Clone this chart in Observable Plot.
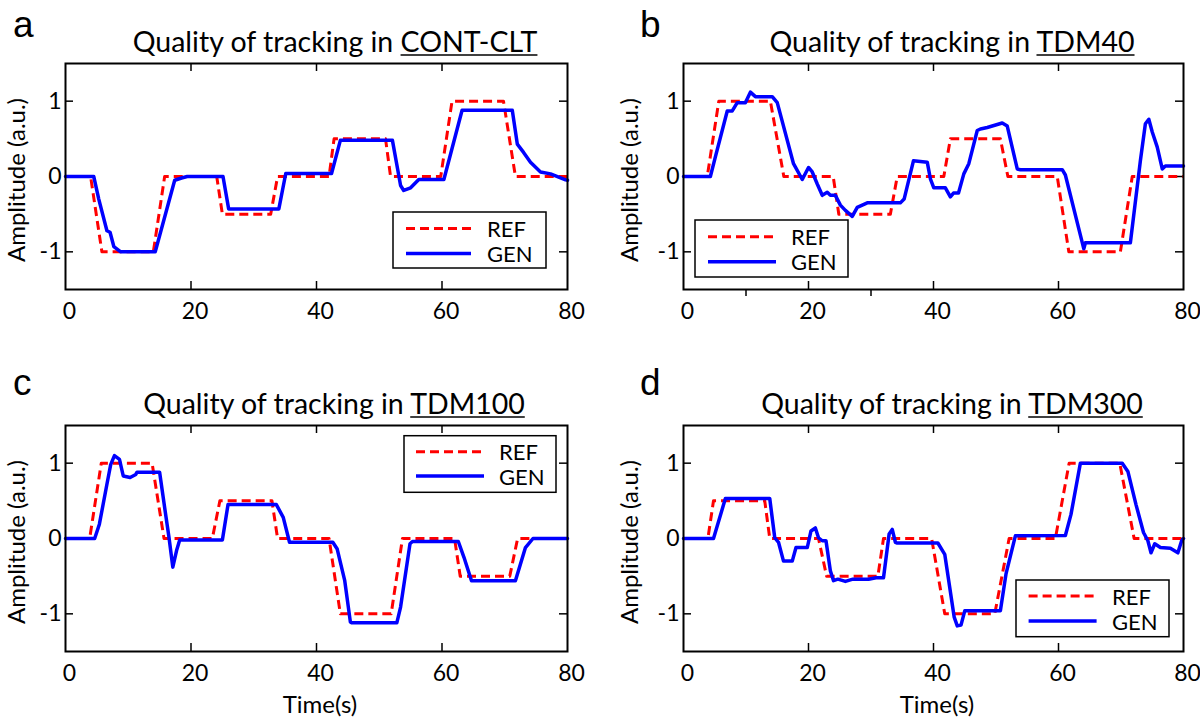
<!DOCTYPE html>
<html><head><meta charset="utf-8">
<script src="https://cdn.jsdelivr.net/npm/d3@7"></script>
<script src="https://cdn.jsdelivr.net/npm/@observablehq/plot@0.6"></script>
<style>
body{margin:0;background:#fff;}
#wrap{position:relative;width:1200px;height:719px;overflow:hidden;background:#fff;}
.panel{position:absolute;}
</style></head><body><div id="wrap"></div>
<script>
// ---- data: [time (s), amplitude (a.u.)] ----
const refA = [[0,0],[4,0],[5.8,-1],[14,-1],[15.8,0],[24.1,0],[25,-0.5],[32.7,-0.5],[33.8,0],[42,0],[42.8,0.5],[51,0.5],[51.8,0],[59.8,0],[61.6,1],[69.8,1],[71.7,0],[80,0]];
const genA = [[0,0],[4.5,0],[5.3,-0.3],[6.6,-0.72],[7.1,-0.74],[7.7,-0.93],[8.8,-1],[14.3,-1],[17.4,-0.05],[18.5,-0.02],[19.4,0],[25.1,0],[26,-0.43],[34,-0.43],[35.1,0.04],[42.4,0.04],[43.8,0.48],[52.1,0.48],[53.4,-0.12],[53.9,-0.185],[55,-0.15],[56.3,-0.04],[60.3,-0.04],[63.2,0.88],[71.2,0.88],[72,0.43],[73,0.32],[74.1,0.19],[75.7,0.06],[77.3,0.035],[79.7,-0.044],[80,-0.05]];
const refB = [[0,0],[3.8,0],[5.65,1],[13.9,1],[16.05,0],[23.95,0],[24.85,-0.5],[33.1,-0.5],[34.2,0],[41.65,0],[42.7,0.5],[50.7,0.5],[51.9,0],[59.8,0],[61.65,-1],[69.9,-1],[71.8,0],[80,0]];
const genB = [[0,0],[4.3,0],[5.1,0.26],[7.0,0.87],[7.8,0.87],[8.6,0.98],[9.9,0.98],[10.7,1.12],[11.5,1.06],[14.2,1.06],[15.0,0.98],[17.6,0.17],[19.0,-0.04],[20.0,0.12],[20.6,0.06],[21.4,-0.1],[22.2,-0.25],[23.0,-0.21],[23.5,-0.25],[24.3,-0.25],[25.1,-0.38],[25.9,-0.45],[27.0,-0.53],[27.8,-0.41],[29.4,-0.35],[34.7,-0.35],[35.3,-0.3],[36.8,0.21],[39.0,0.19],[39.5,-0.03],[40.05,-0.15],[41.9,-0.15],[42.7,-0.27],[43.2,-0.22],[44.0,-0.22],[44.85,0.035],[45.65,0.17],[47,0.61],[47.5,0.63],[48.6,0.65],[49.4,0.67],[51.0,0.71],[51.8,0.67],[53.4,0.1],[53.9,0.09],[60.6,0.09],[61.1,0.02],[64.05,-0.96],[64.3,-0.88],[71.5,-0.88],[73.1,0.21],[73.9,0.70],[74.45,0.76],[75.0,0.59],[75.8,0.39],[76.6,0.10],[77.1,0.14],[80,0.14]];
const refC = [[0,0],[3.85,0],[5.7,1],[13.8,1],[15.7,0],[23.4,0],[24.6,0.5],[32.9,0.5],[33.8,0],[42,0],[43.8,-1],[51.9,-1],[53.7,0],[62,0],[62.9,-0.5],[70.8,-0.5],[72.05,0],[80,0]];
const genC = [[0,0],[4.65,0],[5.4,0.19],[6.6,0.72],[7.2,0.98],[7.8,1.1],[8.6,1.05],[9.2,0.83],[10.3,0.81],[11.2,0.85],[11.4,0.88],[15.0,0.88],[15.8,0.41],[16.5,0.01],[17.1,-0.38],[17.7,-0.16],[18.2,-0.02],[25.0,-0.02],[25.9,0.45],[33.6,0.45],[34.7,0.28],[35.7,-0.05],[42.6,-0.05],[43.3,-0.14],[44.5,-0.56],[45.4,-1.11],[45.6,-1.12],[52.8,-1.12],[53.4,-0.91],[54.9,-0.07],[55.3,-0.04],[62.6,-0.04],[63.5,-0.25],[64.7,-0.56],[71.7,-0.56],[73.3,-0.12],[74.5,0],[80,0]];
const refD = [[0,0],[3.9,0],[4.8,0.5],[13.0,0.5],[13.8,0],[21.6,0],[22.9,-0.5],[31.1,-0.5],[32.0,0],[39.7,0],[41.8,-1],[49.8,-1],[52.1,0],[59.5,0],[61.7,1],[69.8,1],[72.1,0],[80,0]];
const genD = [[0,0],[4.8,0],[6.7,0.53],[13.8,0.53],[14.6,0.01],[15.2,-0.05],[16.0,-0.3],[17.4,-0.3],[18.0,-0.12],[19.8,-0.12],[20.4,0.1],[21.1,0.14],[21.6,0.01],[22.2,-0.03],[22.8,-0.03],[23.5,-0.43],[24.0,-0.56],[24.7,-0.54],[25.9,-0.57],[27.1,-0.54],[29.6,-0.54],[30.8,-0.52],[32.0,-0.52],[32.9,0.06],[33.4,0.12],[33.9,-0.05],[34.2,-0.06],[40.7,-0.06],[41.8,-0.21],[43.3,-1.04],[43.8,-1.16],[44.4,-1.15],[45.0,-0.96],[50.7,-0.96],[51.6,-0.47],[53.1,0.035],[61.1,0.04],[62.0,0.32],[63.5,1.0],[70.2,1.0],[71.1,0.89],[72.4,0.45],[73.6,0.08],[74.3,-0.03],[74.8,-0.19],[75.4,-0.07],[76.3,-0.12],[77.9,-0.13],[79.1,-0.19],[79.7,-0.03],[80,0]];

const xTickValues = [0, 20, 40, 60, 80];
const xInnerTicks = [20, 40, 60];
const yTickValues = [-1, 0, 1];
const strayTicksB = [10, 30];
const panelLetters = ["a", "b", "c", "d"];
const conditions = ["CONT-CLT", "TDM40", "TDM100", "TDM300"];
const titlePrefix = "Quality of tracking in ";
const seriesNames = ["REF", "GEN"];
const yLabel = "Amplitude (a.u.)";
const xLabel = "Time(s)";

// ---- layout ----
const W = 600, H = 360, MT = 63, MB = 71;
const panels = [
  {ref: refA, gen: genA, left: 0,   top: 0,   ml: 65, mr: 33, titleX: 335, ylabX: 24.5,
   leg: {x: 393, y: 212, w: 153, h: 56, lx1: 406, lx2: 471, ly1: 228.5, ly2: 253.5, tx: 487, ty1: 237, ty2: 262}, xlab: false, stray: false},
  {ref: refB, gen: genB, left: 600, top: 0,   ml: 83, mr: 17, titleX: 352, ylabX: 37.5,
   leg: {x: 95, y: 220, w: 153, h: 57, lx1: 108, lx2: 176, ly1: 236.7, ly2: 261.7, tx: 191, ty1: 245, ty2: 270}, xlab: false, stray: true},
  {ref: refC, gen: genC, left: 0,   top: 362, ml: 65, mr: 33, titleX: 334, ylabX: 24.5,
   leg: {x: 404, y: 73.7, w: 152, h: 56.6, lx1: 416, lx2: 484, ly1: 89.7, ly2: 114, tx: 499, ty1: 98, ty2: 123}, xlab: true, xlabX: 320, stray: false},
  {ref: refD, gen: genD, left: 600, top: 362, ml: 83, mr: 17, titleX: 352, ylabX: 37.5,
   leg: {x: 416, y: 218, w: 153, h: 56.7, lx1: 428.6, lx2: 496.6, ly1: 234, ly2: 259, tx: 512, ty1: 243, ty2: 268}, xlab: true, xlabX: 337, stray: false}
];

const RED = "#ff0000", BLUE = "#0000ff";
const FONT = "Lato, 'Open Sans', sans-serif";
const wrap = document.getElementById("wrap");

panels.forEach((p, i) => {
  const plotW = W - p.ml - p.mr, plotH = H - MT - MB;
  const marks = [
    Plot.ruleX(xInnerTicks, {x: d => d, insetTop: plotH - 8, stroke: "#000", strokeWidth: 1.5}),
    Plot.ruleX(xInnerTicks, {x: d => d, insetBottom: plotH - 8, stroke: "#000", strokeWidth: 1.5}),
    Plot.ruleY(yTickValues, {y: d => d, insetRight: plotW - 8, stroke: "#000", strokeWidth: 1.5}),
    Plot.ruleY(yTickValues, {y: d => d, insetLeft: plotW - 8, stroke: "#000", strokeWidth: 1.5}),
    Plot.line(p.ref, {x: d => d[0], y: d => d[1], stroke: RED, strokeWidth: 3, strokeDasharray: "9,5", strokeLinecap: "butt"}),
    Plot.line(p.gen, {x: d => d[0], y: d => d[1], stroke: BLUE, strokeWidth: 3.5}),
    Plot.frame({stroke: "#000", strokeWidth: 2}),
    Plot.axisX(xTickValues, {tickSize: 0, tickPadding: 13, dx: 4, fontSize: 23, tickFormat: d => String(d), label: null}),
    Plot.axisY(yTickValues, {tickSize: 0, tickPadding: 4, fontSize: 23, tickFormat: d => String(d), label: null})
  ];
  if (p.stray) marks.push(Plot.axisX(strayTicksB, {tickSize: 7, strokeWidth: 1.5, tickFormat: () => "", label: null}));
  const svg = Plot.plot({
    width: W, height: H,
    marginLeft: p.ml, marginRight: p.mr, marginTop: MT, marginBottom: MB,
    x: {domain: [0, 80], label: null},
    y: {domain: [-1.5, 1.5], label: null},
    style: {fontFamily: FONT, fontSize: "23px", color: "#000", background: "transparent", overflow: "visible"},
    marks
  });
  const div = document.createElement("div");
  div.className = "panel";
  div.style.left = p.left + "px";
  div.style.top = p.top + "px";
  div.appendChild(svg);
  wrap.appendChild(div);

  const s = d3.select(svg);
  // panel letter
  s.append("text").attr("x", i % 2 === 0 ? 13 : 40).attr("y", i < 2 ? 36.7 : 33).attr("text-anchor", "start")
    .attr("font-family", "'Liberation Sans', Arial, sans-serif").attr("font-size", 37).attr("fill", "#000")
    .text(panelLetters[i]);
  // title
  const t = s.append("text").attr("x", p.titleX).attr("y", 51.5).attr("text-anchor", "middle")
    .attr("font-family", FONT).attr("font-size", 28.5).attr("fill", "#000");
  t.append("tspan").text(titlePrefix);
  const u = t.append("tspan").text(conditions[i]);
  const bb = u.node().getBBox();
  s.append("line").attr("x1", bb.x).attr("x2", bb.x + bb.width).attr("y1", 55).attr("y2", 55)
    .attr("stroke", "#000").attr("stroke-width", 1.6);
  // y label
  s.append("text").attr("transform", `translate(${p.ylabX},180) rotate(-90)`).attr("text-anchor", "middle")
    .attr("font-family", FONT).attr("font-size", 24).attr("fill", "#000").text(yLabel);
  // x label
  if (p.xlab) {
    s.append("text").attr("x", p.xlabX).attr("y", 351).attr("text-anchor", "middle")
      .attr("font-family", FONT).attr("font-size", 24).attr("fill", "#000").text(xLabel);
  }
  // legend
  const L = p.leg;
  s.append("rect").attr("x", L.x).attr("y", L.y).attr("width", L.w).attr("height", L.h)
    .attr("fill", "#fff").attr("stroke", "#000").attr("stroke-width", 1.5);
  s.append("line").attr("x1", L.lx1).attr("x2", L.lx2).attr("y1", L.ly1).attr("y2", L.ly1)
    .attr("stroke", RED).attr("stroke-width", 3).attr("stroke-dasharray", "9,5");
  s.append("line").attr("x1", L.lx1).attr("x2", L.lx2).attr("y1", L.ly2).attr("y2", L.ly2)
    .attr("stroke", BLUE).attr("stroke-width", 3.5);
  s.append("text").attr("x", L.tx).attr("y", L.ty1).attr("text-anchor", "start").attr("font-family", FONT).attr("font-size", 22).attr("fill", "#000").text(seriesNames[0]);
  s.append("text").attr("x", L.tx).attr("y", L.ty2).attr("text-anchor", "start").attr("font-family", FONT).attr("font-size", 22).attr("fill", "#000").text(seriesNames[1]);
});
</script>
</body></html>
